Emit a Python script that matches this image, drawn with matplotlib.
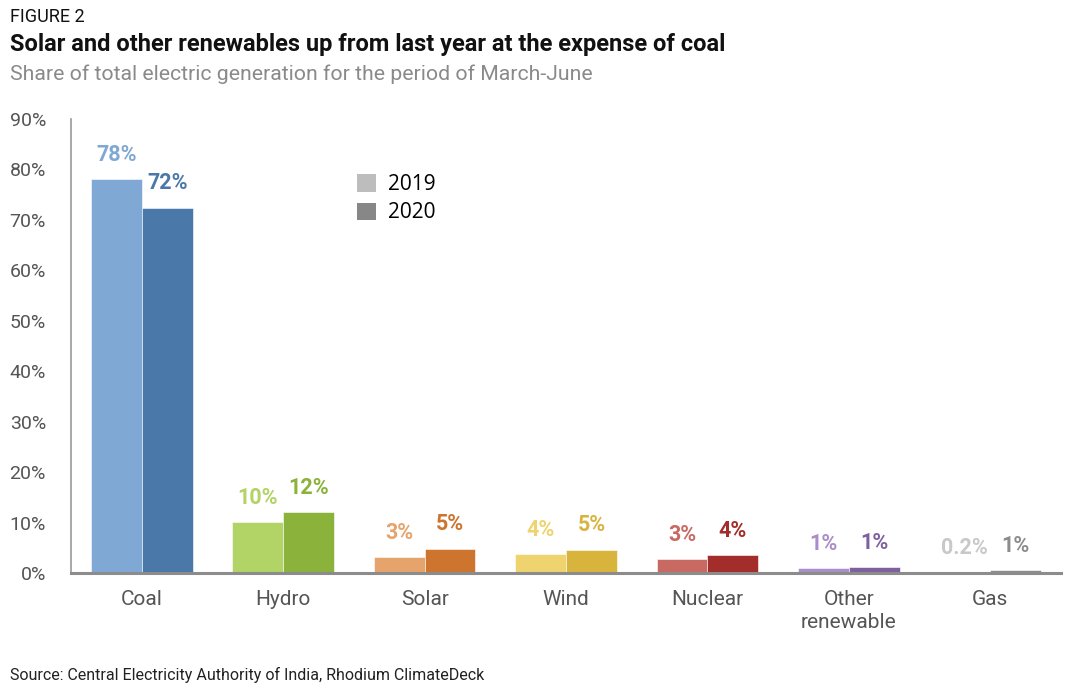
import matplotlib
matplotlib.use('Agg')
import matplotlib.pyplot as plt
from matplotlib.patches import Patch
import numpy as np

# data (share of generation, %)
categories = ['Coal', 'Hydro', 'Solar', 'Wind', 'Nuclear', 'Other\nrenewable', 'Gas']
share_2019 = [78.1, 10.1, 3.2, 3.8, 2.8, 1.0, 0.2]
share_2020 = [72.4, 12.1, 4.8, 4.6, 3.6, 1.2, 0.6]
labels_2019 = ['78%', '10%', '3%', '4%', '3%', '1%', '0.2%']
labels_2020 = ['72%', '12%', '5%', '5%', '4%', '1%', '1%']
colors_2019 = ['#7FA8D4', '#B2D366', '#E6A46C', '#EFD36E', '#C96A62', '#AB8DC8', '#C8C8C8']
colors_2020 = ['#4A78A9', '#8BB23B', '#CD752F', '#D8B43D', '#A32D2A', '#7F609F', '#8C8C8C']
yticks = [0, 10, 20, 30, 40, 50, 60, 70, 80, 90]

plt.rcParams['font.family'] = ['Roboto', 'DejaVu Sans']

fig = plt.figure(figsize=(10.78, 7), dpi=100)
ax = fig.add_axes([71 / 1078, 127 / 700, 990 / 1078, 454 / 700])

x = np.arange(len(categories))
w = 0.36
bars1 = ax.bar(x - w / 2, share_2019, w, color=colors_2019, edgecolor='white', linewidth=0.4)
bars2 = ax.bar(x + w / 2, share_2020, w, color=colors_2020, edgecolor='white', linewidth=0.4)

for b, lab, c in zip(bars1, labels_2019, colors_2019):
    ax.annotate(lab, (b.get_x() + b.get_width() / 2, b.get_height()), xytext=(0, 17.5),
                textcoords='offset points', ha='center', va='center',
                fontsize=15.5, fontweight='bold', color=c)
for b, lab, c in zip(bars2, labels_2020, colors_2020):
    ax.annotate(lab, (b.get_x() + b.get_width() / 2, b.get_height()), xytext=(0, 17.5),
                textcoords='offset points', ha='center', va='center',
                fontsize=15.5, fontweight='bold', color=c)

ax.set_xlim(-0.5, 6.5)
ax.set_ylim(0, 90)
ax.set_yticks(yticks)
ax.set_yticklabels([str(t) + '%' for t in yticks], fontsize=14, color='#555555')
ax.set_xticks(x)
ax.set_xticklabels(categories, fontsize=15, color='#555555', linespacing=1.3)
ax.tick_params(axis='y', length=0, pad=18)
ax.tick_params(axis='x', length=0, pad=12)

for s in ['top', 'right']:
    ax.spines[s].set_visible(False)
ax.spines['left'].set_color('#999999')
ax.spines['left'].set_linewidth(1.2)
ax.spines['bottom'].set_color('#8C8C8C')
ax.spines['bottom'].set_linewidth(2.2)

handles = [Patch(facecolor='#BDBDBD', edgecolor='none'), Patch(facecolor='#878787', edgecolor='none')]
ax.legend(handles, ['2019', '2020'], loc='upper left', bbox_to_anchor=(0.27, 0.92),
          frameon=False, handlelength=0.9, handleheight=0.9, handletextpad=0.6,
          labelspacing=0.35, prop={'family': ['Open Sans', 'DejaVu Sans'], 'size': 15})

fig.text(10 / 1078, 1 - 17 / 700, 'FIGURE 2', fontsize=13, va='center', ha='left', color='#111111')
fig.text(10 / 1078, 1 - 45 / 700, 'Solar and other renewables up from last year at the expense of coal',
         fontsize=17, fontweight='bold', va='center', ha='left', color='#111111')
fig.text(10 / 1078, 1 - 74 / 700, 'Share of total electric generation for the period of March-June',
         fontsize=15.3, va='center', ha='left', color='#8A8A8A')
fig.text(10 / 1078, 1 - 675 / 700, 'Source: Central Electricity Authority of India, Rhodium ClimateDeck',
         fontsize=11.5, va='center', ha='left', color='#222222')

fig.savefig('out.png', dpi=100)
